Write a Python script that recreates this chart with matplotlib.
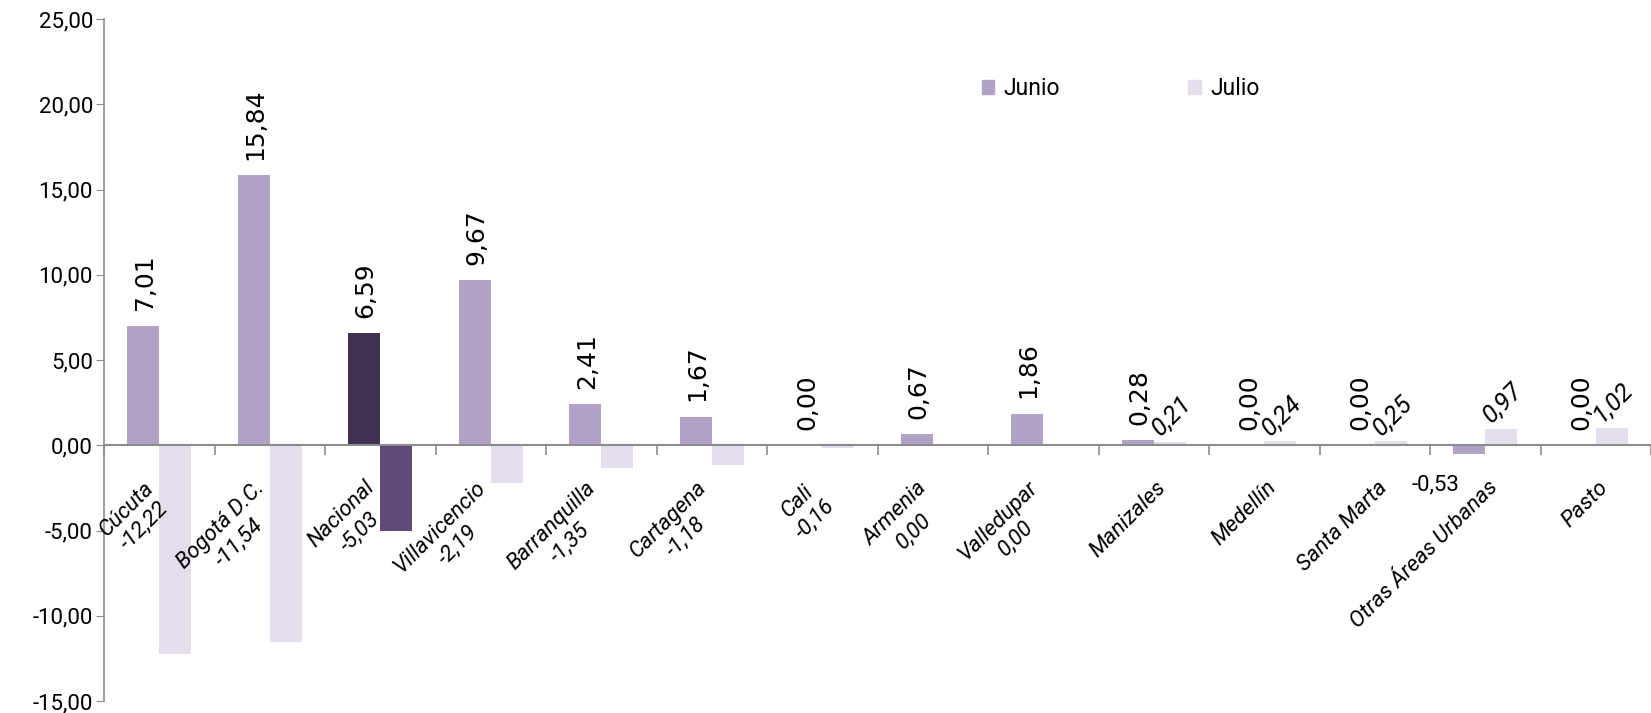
import numpy as np
import matplotlib
matplotlib.use("Agg")
import matplotlib.pyplot as plt
from matplotlib.patches import Patch
from matplotlib.ticker import FuncFormatter

ciudades = ['Cúcuta', 'Bogotá D.C.', 'Nacional', 'Villavicencio', 'Barranquilla',
            'Cartagena', 'Cali', 'Armenia', 'Valledupar', 'Manizales', 'Medellín',
            'Santa Marta', 'Otras Áreas Urbanas', 'Pasto']
junio = [7.01, 15.84, 6.59, 9.67, 2.41, 1.67, 0.00, 0.67, 1.86, 0.28, 0.00, 0.00, -0.53, 0.00]
julio = [-12.22, -11.54, -5.03, -2.19, -1.35, -1.18, -0.16, 0.00, 0.00, 0.21, 0.24, 0.25, 0.97, 1.02]
destacado = 'Nacional'

c_junio = '#b1a3c8'
c_julio = '#e5deec'
c_nac_junio = '#3f3152'
c_nac_julio = '#5f4a7a'
c_eje = '#8c8c8c'

plt.rcParams['font.family'] = ['Roboto', 'DejaVu Sans']


def fmt(v):
    return f'{v:.2f}'.replace('.', ',')


W, H = 1651, 713
fig = plt.figure(figsize=(W / 100, H / 100), dpi=100)
x0 = 104 / W
ax = fig.add_axes([x0, 1 - 701 / H, 1 - x0, (701 - 19) / H])

x = np.arange(len(ciudades))
w = 0.288
col_jun = [c_nac_junio if c == destacado else c_junio for c in ciudades]
col_jul = [c_nac_julio if c == destacado else c_julio for c in ciudades]
ax.bar(x - w / 2, junio, w, color=col_jun, zorder=2)
ax.bar(x + w / 2, julio, w, color=col_jul, zorder=2)

# cada categoria ocupa ~111 px; el eje se corta en el borde derecho
ax.set_xlim(-0.5, -0.5 + (W - 104) / 111)
ax.set_ylim(-15, 25)
ax.set_yticks(np.arange(-15, 26, 5))
ax.yaxis.set_major_formatter(FuncFormatter(lambda v, p: fmt(v)))
ax.tick_params(axis='y', labelsize=16, length=6, color=c_eje, pad=2)

# eje x en cero, marcas entre categorias
ax.spines['bottom'].set_position(('data', 0))
ax.spines['bottom'].set_color(c_eje)
ax.spines['bottom'].set_linewidth(1.5)
ax.spines['left'].set_color(c_eje)
ax.spines['left'].set_linewidth(1.2)
ax.spines['top'].set_visible(False)
ax.spines['right'].set_visible(False)
ax.set_xticks(np.arange(-0.5, len(ciudades), 1.0))
ax.set_xticklabels([])
ax.tick_params(axis='x', length=7, color=c_eje, width=1.2)

# etiquetas de categoria (con el valor de julio debajo cuando no es positivo)
for i, (c, v) in enumerate(zip(ciudades, julio)):
    txt = c if v > 0 else c + '\n' + fmt(v)
    ax.annotate(txt, (i, 0), xytext=(12, -23), textcoords='offset points',
                rotation=45, ha='right', va='top', multialignment='center',
                fontsize=16, style='italic', linespacing=1.25, zorder=3)

# etiquetas junio
for i, v in enumerate(junio):
    if v >= 0:
        ax.annotate(fmt(v), (i - w / 2, v), xytext=(1, 11), textcoords='offset points',
                    rotation=90, ha='center', va='bottom', fontsize=18,
                    family='DejaVu Sans')
    else:
        ax.annotate(fmt(v), (i - w / 2, v), xytext=(-24, -22), textcoords='offset points',
                    ha='center', va='center', fontsize=16)

# etiquetas julio positivas
for i, v in enumerate(julio):
    if v > 0:
        ax.annotate(fmt(v), (i + w / 2, v), xytext=(1, 1), textcoords='offset points',
                    rotation=45, ha='center', va='bottom',
                    fontsize=18, style='italic')

handles = [Patch(color=c_junio, label='Junio'), Patch(color=c_julio, label='Julio')]
fig.legend(handles=handles, loc='center left', bbox_to_anchor=(0.582, 0.876),
           ncol=2, frameon=False, fontsize=16.5, handlelength=0.55, handleheight=0.55,
           handletextpad=0.4, columnspacing=5.6)

fig.savefig('out.png', dpi=100)
